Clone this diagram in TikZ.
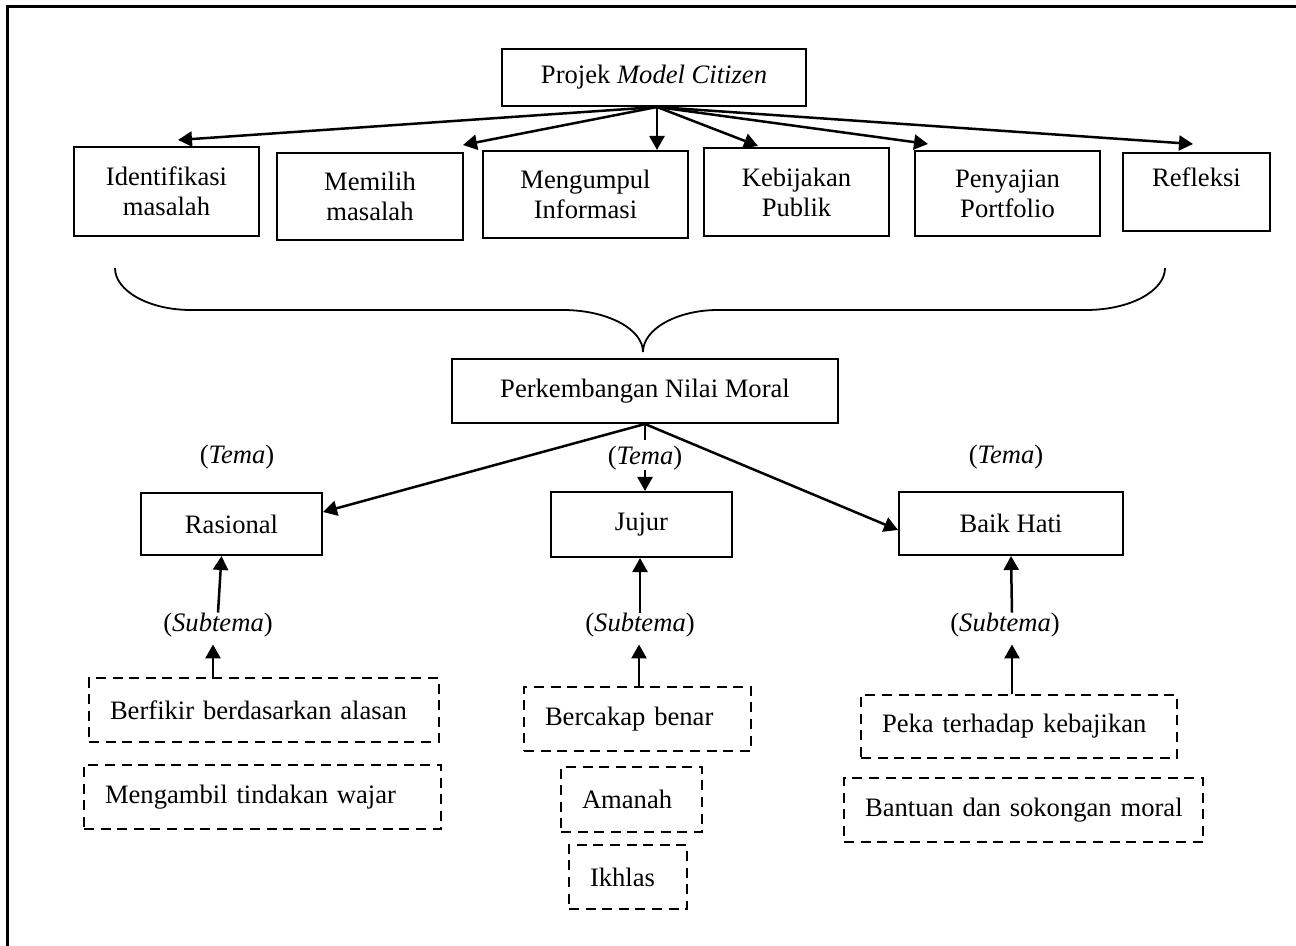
\documentclass[tikz,border=0pt]{standalone}
\usepackage{fontspec}
\setmainfont{Liberation Serif}
\usetikzlibrary{arrows.meta}
\begin{document}
\begin{tikzpicture}[x=0.5pt,y=-0.5pt,
  every node/.style={font=\fontsize{13.3}{15}\selectfont},
  box/.style={draw,line width=1pt,align=center,inner sep=0pt},
  dbox/.style={draw,line width=1.3pt,dash pattern=on 5pt off 3.3pt,align=left,inner xsep=10.5pt,inner ysep=0pt},
  lbl/.style={inner sep=0pt},
  arr/.style={line width=1.25pt,-{Triangle[length=7pt,width=7.5pt]}},
  ln/.style={line width=1.25pt},
  brace/.style={line width=0.9pt}]
\useasboundingbox (0,0) rectangle (1296,946);
% outer frame (only top and left visible)
\draw[line width=1.5pt] (7,946) -- (7,7) -- (1296,7);

% top level
\node[box,minimum width=152pt,minimum height=28.5pt] (proj) at (654,77.5) {Projek \textit{Model Citizen}};
\node[box,minimum width=92.5pt,minimum height=44.5pt] (ident) at (166.5,191.5) {Identifikasi\\masalah};
\node[box,minimum width=93pt,minimum height=43.5pt] (mem) at (370,196.5) {Memilih\\masalah};
\node[box,minimum width=102.5pt,minimum height=43.5pt] (meng) at (585.5,194.5) {Mengumpul\\Informasi};
\node[box,minimum width=92.5pt,minimum height=44pt] (kebij) at (796.5,192) {Kebijakan\\Publik};
\node[box,minimum width=92.5pt,minimum height=42.5pt] (pen) at (1007.5,193.5) {Penyajian\\Portfolio};
\node[box,minimum width=73.5pt,minimum height=39pt] (refl) at (1196.5,192) {Refleksi\\\mbox{}};

\coordinate (src) at ([xshift=1.5pt]proj.south);
\draw[arr] (src) -- ([xshift=5.75pt,yshift=3pt]ident.north);
\draw[arr] (src) -- ([xshift=-0.5pt,yshift=3.5pt]mem.north east);
\draw[arr] (src) -- (src |- meng.north);
\draw[arr] (src) -- ([xshift=-19.25pt,yshift=0.5pt]kebij.north);
\draw[arr] (src) -- ([xshift=7pt,yshift=3pt]pen.north west);
\draw[arr] (src) -- ([xshift=-1.75pt,yshift=4pt]refl.north);

% brace
\draw[brace] (115,268) .. controls (115,291) and (149,310) .. (191,310) -- (563,310)
  .. controls (607,310) and (643,329) .. (643,352);
\draw[brace] (643,352) .. controls (643,329) and (677,310) .. (718,310) -- (1086,310)
  .. controls (1130,310) and (1165,291) .. (1165,268);

% middle
\node[box,minimum width=193pt,minimum height=32pt] (perk) at (645,391) {Perkembangan Nilai Moral};
\node[box,minimum width=90.5pt,minimum height=31pt] (ras) at (231.5,524) {Rasional};
\node[box,minimum width=90.5pt,minimum height=32.5pt] (juj) at (641.5,524.5) {Jujur};
\node[box,minimum width=112pt,minimum height=31.5pt] (baik) at (1011,523.5) {Baik Hati};

\node[lbl] (tema1) at (237,457) {(\textit{Tema})};
\node[lbl] (tema2) at (645,458) {(\textit{Tema})};
\node[lbl] (tema3) at (1006,457) {(\textit{Tema})};

\draw[arr] (perk.south) -- ([yshift=6pt]ras.east);
\draw[arr] (perk.south) -- ([yshift=-3.25pt]baik.west);
\coordinate (tick) at (645,440);
\draw[ln] (perk.south) -- (tick);
\draw[arr] (tema2.south) -- (tema2.south |- juj.north);

% subtema labels
\node[lbl] (sub1) at (218,625) {(\textit{Subtema})};
\node[lbl] (sub2) at (640,625) {(\textit{Subtema})};
\node[lbl] (sub3) at (1005,625) {(\textit{Subtema})};

\draw[arr] (sub1.north) -- ([xshift=-5pt]ras.south);
\draw[arr] (sub2.north) -- (sub2.north |- juj.south);
\draw[arr] ([xshift=3.5pt]sub3.north) -- (baik.south);

% dashed boxes
\node[dbox,text width=154pt,minimum height=32pt] (berf) at (264,710) {\mbox{Berfikir berdasarkan alasan}};
\node[dbox,text width=157.5pt,minimum height=32pt] (mengam) at (262.5,797) {\mbox{Mengambil tindakan wajar}};
\node[dbox,text width=92.5pt,minimum height=32pt] (berc) at (637.5,719) {\mbox{Bercakap benar}};
\node[dbox,text width=49.5pt,minimum height=32.5pt] (aman) at (631.5,799.5) {\mbox{Amanah}};
\node[dbox,text width=38pt,minimum height=32pt] (ikhl) at (628,877) {\mbox{Ikhlas}};
\node[dbox,text width=137pt,minimum height=31.5pt] (peka) at (1019,726.5) {\mbox{Peka terhadap kebajikan}};
\node[dbox,text width=158.5pt,minimum height=32pt] (bant) at (1023.5,810) {\mbox{Bantuan dan sokongan moral}};

\draw[arr] ([xshift=-25.5pt]berf.north) -- ([xshift=-2.5pt,yshift=-3.5pt]sub1.south);
\draw[arr] ([xshift=0.75pt]berc.north) -- ([xshift=-0.5pt,yshift=-3.5pt]sub2.south);
\draw[arr] ([xshift=-3.5pt]peka.north) -- ([xshift=3.5pt,yshift=-3.5pt]sub3.south);
\end{tikzpicture}
\end{document}
